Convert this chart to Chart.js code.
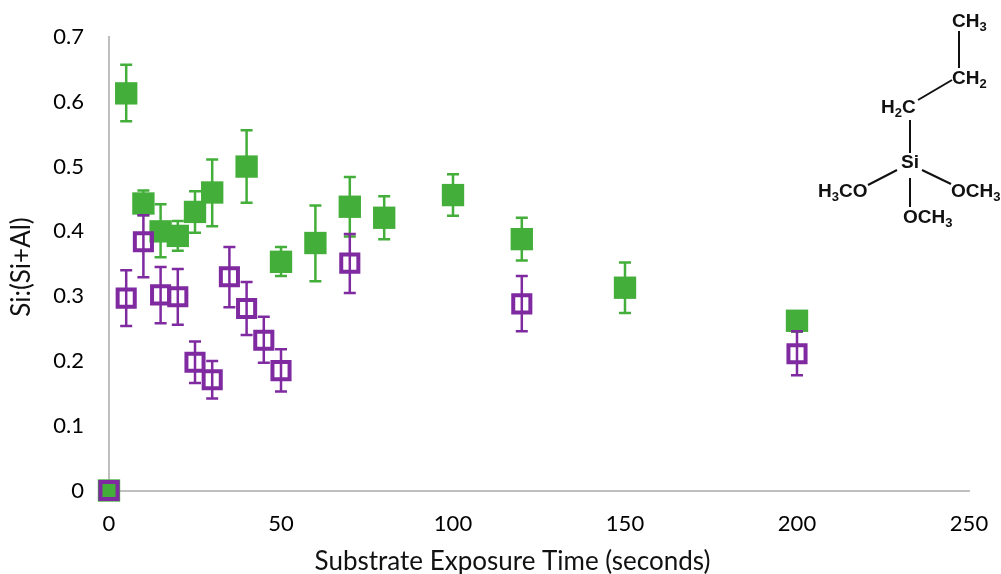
<!DOCTYPE html>
<html>
<head>
<meta charset="utf-8">
<title>Si:(Si+Al) vs exposure time</title>
<script src="https://cdn.jsdelivr.net/npm/chart.js@4/dist/chart.umd.min.js"></script>
<style>
  html, body { margin: 0; padding: 0; background: #fff; overflow: hidden; }
  #wrap { position: relative; width: 1001px; height: 574px; }
  #mol { position: absolute; left: 0; top: 0; pointer-events: none; }
  #mol text { font-family: "Liberation Sans", sans-serif; font-weight: bold; font-size: 19px; fill: #111; }
  #mol tspan.s { font-size: 13px; }
  #mol line { stroke: #111; stroke-width: 2; }
</style>
</head>
<body>
<div id="wrap">
  <canvas id="chart" width="1001" height="574"></canvas>
  <svg id="mol" width="1001" height="574">
    <line x1="959" y1="31" x2="959" y2="68"/>
    <line x1="952" y1="80" x2="918" y2="100"/>
    <line x1="910" y1="120" x2="910" y2="153"/>
    <line x1="897" y1="170" x2="868" y2="185"/>
    <line x1="922" y1="170" x2="951" y2="184"/>
    <line x1="910" y1="178" x2="910" y2="207"/>
    <text x="952" y="27">CH<tspan class="s" dy="4">3</tspan></text>
    <text x="952" y="84">CH<tspan class="s" dy="4">2</tspan></text>
    <text x="881" y="113">H<tspan class="s" dy="4">2</tspan><tspan dy="-4">C</tspan></text>
    <text x="901" y="168">Si</text>
    <text x="818" y="197">H<tspan class="s" dy="4">3</tspan><tspan dy="-4">CO</tspan></text>
    <text x="951" y="197">OCH<tspan class="s" dy="4">3</tspan></text>
    <text x="903" y="223">OCH<tspan class="s" dy="4">3</tspan></text>
  </svg>
</div>
<script>
// values
var greenTimes = [0, 5, 10, 15, 20, 25, 30, 40, 50, 60, 70, 80, 100, 120, 150, 200];
var greenValues = [0, 0.613, 0.443, 0.400, 0.393, 0.430, 0.460, 0.500, 0.353, 0.382, 0.438, 0.421, 0.456, 0.388, 0.313, 0.262];
var greenHigh = [0, 0.657, 0.463, 0.442, 0.416, 0.462, 0.511, 0.556, 0.376, 0.440, 0.484, 0.454, 0.488, 0.421, 0.352, 0.270];
var greenLow = [0, 0.570, 0.425, 0.360, 0.370, 0.398, 0.408, 0.444, 0.331, 0.323, 0.392, 0.388, 0.424, 0.355, 0.274, 0.245];

var purpleTimes = [0, 5, 10, 15, 20, 25, 30, 35, 40, 45, 50, 70, 120, 200];
var purpleValues = [0, 0.297, 0.384, 0.302, 0.299, 0.198, 0.171, 0.330, 0.281, 0.232, 0.185, 0.351, 0.288, 0.211];
var purpleHigh = [0, 0.340, 0.425, 0.345, 0.342, 0.230, 0.200, 0.376, 0.322, 0.268, 0.218, 0.396, 0.331, 0.246];
var purpleLow = [0, 0.254, 0.329, 0.258, 0.256, 0.166, 0.142, 0.283, 0.240, 0.197, 0.153, 0.305, 0.246, 0.178];

var xAxisTitle = 'Substrate Exposure Time (seconds)';
var yAxisTitle = 'Si:(Si+Al)';

var green = '#43ae39';
var purple = '#7f2aa0';
var axisGrey = '#bfbfbf';
var tickFont = { family: 'Lato, sans-serif', size: 22 };

function toPoints(xs, ys) {
  return xs.map(function (x, i) {
    return { x: x, y: ys[i] };
  });
}

// draws the whiskers of a dataset just before its markers
var errorBars = {
  id: 'errorBars',
  beforeDatasetDraw: function (chart, args) {
    var ds = chart.data.datasets[args.index];
    var ctx = chart.ctx;
    var xs = chart.scales.x, ys = chart.scales.y;
    ctx.save();
    ctx.strokeStyle = ds.whiskerColor;
    ctx.lineWidth = 2.5;
    ds.data.forEach(function (p, i) {
      if (ds.high[i] === ds.low[i]) return;
      var px = xs.getPixelForValue(p.x);
      var hi = ys.getPixelForValue(ds.high[i]);
      var lo = ys.getPixelForValue(ds.low[i]);
      ctx.beginPath();
      ctx.moveTo(px, hi); ctx.lineTo(px, lo);
      ctx.moveTo(px - 6, hi); ctx.lineTo(px + 6, hi);
      ctx.moveTo(px - 6, lo); ctx.lineTo(px + 6, lo);
      ctx.stroke();
    });
    ctx.restore();
  }
};

// the axis titles sit off-centre in the reference, the built-in title can't do that
var axisTitles = {
  id: 'axisTitles',
  afterDraw: function (chart) {
    var ctx = chart.ctx;
    ctx.save();
    ctx.font = '26px Lato, sans-serif';
    ctx.fillStyle = '#111';
    ctx.textAlign = 'center';
    ctx.textBaseline = 'alphabetic';
    ctx.fillText(xAxisTitle, 512.5, 570);
    ctx.translate(30, 267);
    ctx.rotate(-Math.PI / 2);
    ctx.fillText(yAxisTitle, 0, 0);
    ctx.restore();
  }
};

new Chart(document.getElementById('chart'), {
  type: 'scatter',
  plugins: [errorBars, axisTitles],
  data: {
    datasets: [
      {
        data: toPoints(greenTimes, greenValues),
        high: greenHigh, low: greenLow, whiskerColor: green,
        pointStyle: 'rect', pointRadius: 15.8,
        backgroundColor: green, borderColor: green, borderWidth: 0,
        clip: false, order: 2
      },
      {
        data: toPoints(purpleTimes, purpleValues),
        high: purpleHigh, low: purpleLow, whiskerColor: purple,
        pointStyle: 'rect', pointRadius: 12.1,
        backgroundColor: 'rgba(0,0,0,0)', borderColor: purple, borderWidth: 4,
        clip: false, order: 1
      }
    ]
  },
  options: {
    responsive: false,
    animation: false,
    layout: { padding: { top: 37, right: 32 } },
    plugins: { legend: { display: false }, tooltip: { enabled: false } },
    scales: {
      x: {
        type: 'linear', min: 0, max: 250,
        afterFit: function (s) { s.height = 83.5; },
        grid: { display: false },
        border: { color: axisGrey, width: 2 },
        ticks: { stepSize: 50, color: '#000', font: tickFont, padding: 12, maxRotation: 0 }
      },
      y: {
        type: 'linear', min: 0, max: 0.7,
        afterFit: function (s) { s.width = 109; },
        grid: { display: false },
        border: { color: axisGrey, width: 2 },
        ticks: {
          stepSize: 0.1, color: '#000', font: tickFont, padding: 17,
          callback: function (v) { return String(Math.round(v * 10) / 10); }
        }
      }
    }
  }
});
</script>
</body>
</html>
